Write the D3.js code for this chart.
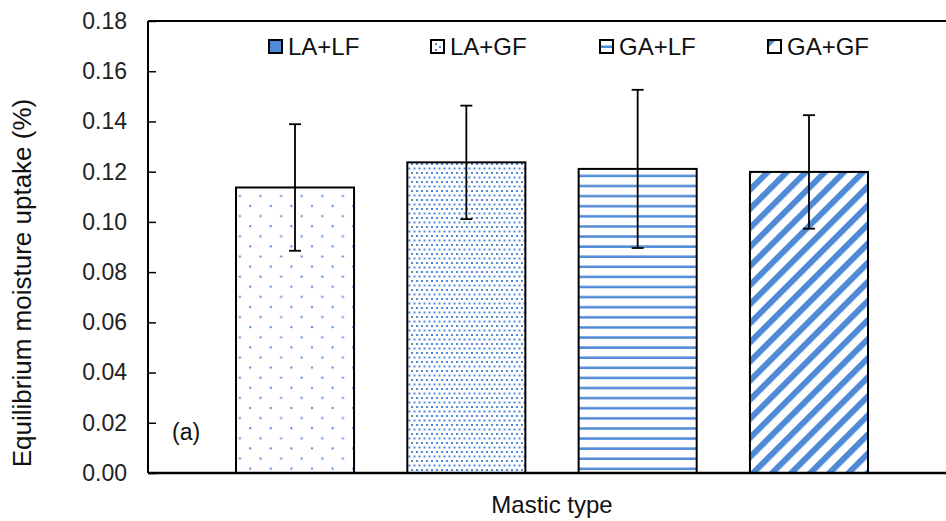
<!DOCTYPE html>
<html>
<head>
<meta charset="utf-8">
<script src="https://cdn.jsdelivr.net/npm/d3@7"></script>
<style>
  body { margin: 0; background: #fff; }
  svg { font-family: "Liberation Sans", Arial, sans-serif; }
</style>
</head>
<body>
<svg id="chart"></svg>
<script>
// data
var categories = ["Mastic type"];
var series = ["LA+LF", "LA+GF", "GA+LF", "GA+GF"];
var values = [0.1137, 0.1237, 0.1211, 0.1199];
var errors = [0.0252, 0.0226, 0.0315, 0.0226];
var yTicks = [0, 0.02, 0.04, 0.06, 0.08, 0.10, 0.12, 0.14, 0.16, 0.18];

var width = 946, height = 521;
var margin = { top: 21, right: -10, bottom: 48, left: 148 };
var blue = "#4f8ad6";

var svg = d3.select("#chart").attr("width", width).attr("height", height);
var defs = svg.append("defs");

// patterns
var p1 = defs.append("pattern").attr("id", "dotsSparse")
  .attr("patternUnits", "userSpaceOnUse").attr("width", 20.6).attr("height", 20.2);
p1.append("rect").attr("x", 2).attr("y", 3).attr("width", 2).attr("height", 2).attr("fill", blue);
p1.append("rect").attr("x", 12.3).attr("y", 13.1).attr("width", 2).attr("height", 2).attr("fill", blue);

var p2 = defs.append("pattern").attr("id", "dotsDense")
  .attr("patternUnits", "userSpaceOnUse").attr("width", 5).attr("height", 9);
p2.append("rect").attr("x", 1).attr("y", 1).attr("width", 2).attr("height", 2).attr("fill", blue);
p2.append("rect").attr("x", 3.5).attr("y", 5.5).attr("width", 2).attr("height", 2).attr("fill", blue);
p2.append("rect").attr("x", -1.5).attr("y", 5.5).attr("width", 2).attr("height", 2).attr("fill", blue);

var p3 = defs.append("pattern").attr("id", "hLines")
  .attr("patternUnits", "userSpaceOnUse").attr("width", 10).attr("height", 10.1);
p3.append("rect").attr("x", 0).attr("y", 3).attr("width", 10).attr("height", 2.5).attr("fill", blue);

var p4 = defs.append("pattern").attr("id", "diag")
  .attr("patternUnits", "userSpaceOnUse").attr("width", 13.5).attr("height", 13.5)
  .attr("patternTransform", "rotate(45)");
p4.append("rect").attr("x", 0).attr("y", 0).attr("width", 6).attr("height", 13.5).attr("fill", blue);

var fills = ["url(#dotsSparse)", "url(#dotsDense)", "url(#hLines)", "url(#diag)"];
var legendX = [269, 431, 600, 768];

var x0 = d3.scaleBand().domain(categories)
  .range([margin.left, width - margin.right]).paddingInner(0).paddingOuter(0.0);
var cx = x0("Mastic type") + x0.bandwidth() / 2;
var x1 = d3.scaleBand().domain(series)
  .range([cx - 316, cx + 316])
  .paddingInner(0.311).paddingOuter(0.0);
var y = d3.scaleLinear().domain([0, 0.18]).range([height - margin.bottom, margin.top]);

var g = svg.append("g");

// y axis with inward ticks
var yAxis = g.append("g").attr("transform", "translate(" + margin.left + ",0)")
  .call(d3.axisRight(y).tickValues(yTicks).tickSize(8).tickFormat(d3.format(".2f")));
yAxis.select(".domain").remove();
yAxis.selectAll(".tick line").attr("stroke", "#000").attr("stroke-width", 1.5);
yAxis.selectAll(".tick text").attr("x", -21).attr("text-anchor", "end")
  .attr("font-size", 23).attr("fill", "#222");

// bars
var bars = g.selectAll(".bar").data(series).enter().append("g");
bars.append("rect")
  .attr("x", function (d) { return x1(d); })
  .attr("y", function (d, i) { return y(values[i]); })
  .attr("width", x1.bandwidth())
  .attr("height", function (d, i) { return y(0) - y(values[i]); })
  .attr("fill", function (d, i) { return fills[i]; })
  .attr("stroke", "#000").attr("stroke-width", 2);

// error bars
bars.append("line")
  .attr("x1", function (d) { return x1(d) + x1.bandwidth() / 2; })
  .attr("x2", function (d) { return x1(d) + x1.bandwidth() / 2; })
  .attr("y1", function (d, i) { return y(values[i] - errors[i]); })
  .attr("y2", function (d, i) { return y(values[i] + errors[i]); })
  .attr("stroke", "#000").attr("stroke-width", 1.8);
[-1, 1].forEach(function (s) {
  bars.append("line")
    .attr("x1", function (d) { return x1(d) + x1.bandwidth() / 2 - 6; })
    .attr("x2", function (d) { return x1(d) + x1.bandwidth() / 2 + 6; })
    .attr("y1", function (d, i) { return y(values[i] + s * errors[i]); })
    .attr("y2", function (d, i) { return y(values[i] + s * errors[i]); })
    .attr("stroke", "#000").attr("stroke-width", 1.8);
});

// plot frame (right side cut off)
g.append("line").attr("x1", margin.left).attr("x2", margin.left)
  .attr("y1", y(0.18)).attr("y2", y(0)).attr("stroke", "#000").attr("stroke-width", 2);
g.append("line").attr("x1", margin.left).attr("x2", width)
  .attr("y1", y(0.18)).attr("y2", y(0.18)).attr("stroke", "#000").attr("stroke-width", 2);
g.append("line").attr("x1", margin.left).attr("x2", width)
  .attr("y1", y(0)).attr("y2", y(0)).attr("stroke", "#000").attr("stroke-width", 2.5);

// legend
var legend = g.selectAll(".leg").data(series).enter().append("g")
  .attr("transform", function (d, i) { return "translate(" + legendX[i] + ",40)"; });
legend.append("rect").attr("x", 0).attr("y", 0).attr("width", 13).attr("height", 13)
  .attr("fill", function (d, i) { return i === 0 ? blue : "#fff"; });
// small swatch marks like Excel's shrunken patterns
legend.filter(function (d, i) { return i === 1; }).selectAll(".dot")
  .data([[4, 3], [8, 6], [4, 9]]).enter().append("rect")
  .attr("x", function (p) { return p[0]; }).attr("y", function (p) { return p[1]; })
  .attr("width", 2).attr("height", 2).attr("fill", blue);
legend.filter(function (d, i) { return i === 2; }).append("rect")
  .attr("x", 0).attr("y", 5.5).attr("width", 13).attr("height", 2.5).attr("fill", blue);
legend.filter(function (d, i) { return i === 3; }).append("path")
  .attr("d", "M0,0H8L0,8Z").attr("fill", blue);
legend.append("rect").attr("x", 0).attr("y", 0).attr("width", 13).attr("height", 13)
  .attr("fill", "none").attr("stroke", "#000").attr("stroke-width", 2);
legend.append("text").attr("x", 19).attr("y", 15).attr("font-size", 24).attr("fill", "#111")
  .text(function (d) { return d; });

// labels
g.append("text").attr("x", 172).attr("y", 440).attr("font-size", 23).attr("fill", "#111").text("(a)");
g.append("text").attr("x", cx).attr("y", 513)
  .attr("text-anchor", "middle").attr("font-size", 24).attr("fill", "#111").text(categories[0]);
g.append("text").attr("transform", "translate(31,283) rotate(-90)")
  .attr("text-anchor", "middle").attr("font-size", 26).attr("fill", "#111")
  .text("Equilibrium moisture uptake (%)");
</script>
</body>
</html>
